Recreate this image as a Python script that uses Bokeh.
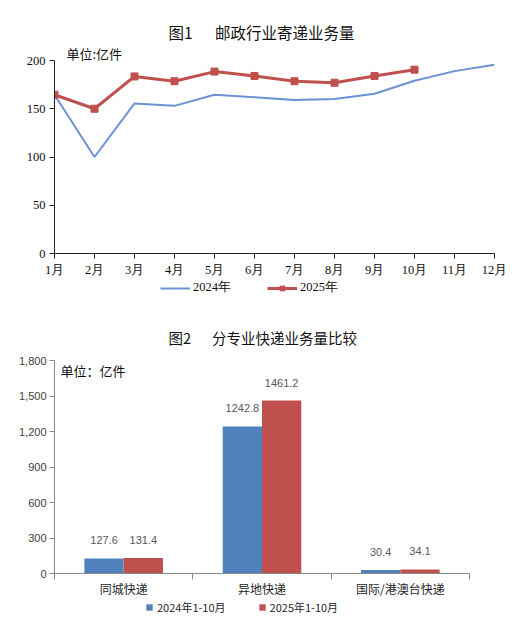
from bokeh.plotting import figure
from bokeh.layouts import column
from bokeh.models import (FixedTicker, Legend, LegendItem, Label, Title, NumeralTickFormatter,
                          ColumnDataSource)
from bokeh.core.properties import value
from bokeh.embed import file_html
from bokeh.resources import INLINE

# ---------------- data ----------------
months = ["1月", "2月", "3月", "4月", "5月", "6月", "7月", "8月", "9月", "10月", "11月", "12月"]
vol_2024 = [164.5, 100.0, 155.5, 153.0, 164.5, 162.0, 159.0, 160.0, 165.5, 179.0, 189.0, 195.5]
vol_2025 = [164.5, 150.0, 183.5, 178.5, 188.5, 184.0, 178.5, 177.0, 184.0, 190.5]
y1_ticks = [0, 50, 100, 150, 200]

categories = ["同城快递", "异地快递", "国际/港澳台快递"]
bar_2024 = [127.6, 1242.8, 30.4]
bar_2025 = [131.4, 1461.2, 34.1]
y2_ticks = [0, 300, 600, 900, 1200, 1500, 1800]

CJK = "Noto Sans CJK SC"
SERIF = "Liberation Serif"
SANS = "Liberation Sans"
BLUE_LINE = "#6b93d3"
RED = "#c0504d"
BLUE = "#4f81bd"
NAN = float("nan")

W = 512
LEFT, RIGHT = 54, 18          # common frame borders of every child of the column
FRAME_W = W - LEFT - RIGHT


def legend_strip(height):
    f = figure(width=W, height=height, x_range=(0, 1), y_range=(0, 1),
               output_backend="svg", toolbar_location=None, min_border=0,
               min_border_left=LEFT, min_border_right=RIGHT)
    f.axis.visible = False
    f.grid.visible = False
    f.outline_line_color = None
    return f


# ---------------- figure 1 ----------------
x_idx = list(range(1, len(months) + 1))
p1 = figure(width=W, height=279, x_range=(1, 12), y_range=(0, 200),
            output_backend="svg", toolbar_location=None,
            min_border_left=LEFT, min_border_right=RIGHT, min_border_top=60, min_border_bottom=26)
p1.outline_line_color = None
p1.grid.visible = False

p1.line(x_idx, vol_2024, line_color=BLUE_LINE, line_width=2)
x25 = x_idx[:len(vol_2025)]
p1.line(x25, vol_2025, line_color=RED, line_width=3)
p1.scatter(x25, vol_2025, marker="square", size=7, fill_color=RED, line_color=RED)

p1.xaxis.ticker = FixedTicker(ticks=x_idx)
p1.xaxis.major_label_overrides = {i: m for i, m in zip(x_idx, months)}
p1.yaxis.ticker = FixedTicker(ticks=y1_ticks)
for ax in (p1.xaxis[0], p1.yaxis[0]):
    ax.axis_line_color = "#222222"
    ax.major_tick_line_color = "#222222"
    ax.major_tick_in = 0
    ax.major_tick_out = 5
    ax.minor_tick_line_color = None
    ax.major_label_text_font = SERIF
    ax.major_label_text_font_size = "12.5px"
    ax.major_label_text_color = "#111111"
p1.xaxis.major_label_standoff = 4
p1.yaxis.major_label_standoff = 4

p1.add_layout(Title(text="单位:亿件", align="left", offset=66 - LEFT, standoff=-4,
                    text_font=CJK, text_font_size="13px", text_font_style="normal",
                    text_color="#111111"), "above")
p1.add_layout(Title(text="图1\u3000\u00a0\u00a0邮政行业寄递业务量", align="left", offset=168 - LEFT,
                    standoff=2, text_font=CJK, text_font_size="15.5px", text_font_style="normal",
                    text_color="#111111"), "above")

# legend strip 1 (legend glyphs only; the renderers hold no visible point)
l1 = legend_strip(17)
g24 = l1.line([NAN], [NAN], line_color=BLUE_LINE, line_width=2)
g25l = l1.line([NAN], [NAN], line_color=RED, line_width=3)
g25m = l1.scatter([NAN], [NAN], marker="square", size=7, fill_color=RED, line_color=RED)
l1.add_layout(Legend(items=[LegendItem(label="2024年", renderers=[g24]),
                            LegendItem(label="2025年", renderers=[g25l, g25m])],
                     orientation="horizontal", location=(160 - LEFT, 0),
                     glyph_width=30, glyph_height=12, label_standoff=3, spacing=36,
                     padding=0, margin=0, border_line_color=None, background_fill_alpha=0,
                     label_text_font=SERIF, label_text_font_size="12.5px",
                     label_text_color="#111111"))

# ---------------- figure 2 ----------------
n = len(categories)
centers = [i + 0.5 for i in range(n)]
bw = 0.284
# the category axis ends at x=469 px of the page, inside the common frame
ax_r = 469.0
unit_px = (ax_r - LEFT) / n
x2_end = n + (LEFT + FRAME_W - ax_r) / unit_px

src = ColumnDataSource(dict(
    x24=[c - bw / 2 for c in centers], x25=[c + bw / 2 for c in centers],
    v24=bar_2024, v25=bar_2025,
    t24=[f"{v:.1f}" for v in bar_2024], t25=[f"{v:.1f}" for v in bar_2025]))

p2 = figure(width=W, height=304, x_range=(0, x2_end), y_range=(0, 1800),
            output_backend="svg", toolbar_location=None,
            min_border_left=LEFT, min_border_right=RIGHT, min_border_top=64, min_border_bottom=27)
p2.outline_line_color = None
p2.grid.visible = False

p2.vbar(x="x24", top="v24", width=bw, source=src, fill_color=BLUE, line_color=None)
p2.vbar(x="x25", top="v25", width=bw, source=src, fill_color=RED, line_color=None)
p2.text(x="x24", y="v24", text="t24", source=src, y_offset=-18, text_align="center",
        text_baseline="middle", text_font=value(SANS), text_font_size="11px",
        text_color="#595959")
p2.text(x="x25", y="v25", text="t25", source=src, y_offset=-18, text_align="center",
        text_baseline="middle", text_font=value(SANS), text_font_size="11px",
        text_color="#595959")

p2.xaxis.ticker = FixedTicker(ticks=centers, minor_ticks=list(range(n + 1)))
p2.xaxis.bounds = (0, n)
p2.xaxis.major_label_overrides = {c: cat for c, cat in zip(centers, categories)}
p2.xaxis.major_tick_out = 0
p2.xaxis.major_tick_in = 0
p2.xaxis.minor_tick_out = 6
p2.xaxis.minor_tick_in = 0
p2.xaxis.minor_tick_line_color = "#888888"
p2.xaxis.major_label_text_font = CJK
p2.xaxis.major_label_text_font_size = "12px"
p2.xaxis.major_label_text_color = "#262626"
p2.xaxis.major_label_standoff = 0
p2.yaxis.ticker = FixedTicker(ticks=y2_ticks)
p2.yaxis.formatter = NumeralTickFormatter(format="0,0")
p2.yaxis.major_tick_in = 0
p2.yaxis.major_tick_out = 5
p2.yaxis.minor_tick_line_color = None
p2.yaxis.major_tick_line_color = "#888888"
p2.yaxis.major_label_text_font = SANS
p2.yaxis.major_label_text_font_size = "11px"
p2.yaxis.major_label_text_color = "#404040"
p2.yaxis.major_label_standoff = 3
for ax in (p2.xaxis[0], p2.yaxis[0]):
    ax.axis_line_color = "#888888"

p2.add_layout(Title(text="图2\u3000\u00a0\u00a0分专业快递业务量比较", align="left", offset=168 - LEFT,
                    standoff=25, text_font=CJK, text_font_size="14.5px", text_font_style="normal",
                    text_color="#111111"), "above")
plot_h2 = 213
p2.add_layout(Label(x=0, y=1800 - 10 * 1800 / plot_h2, x_offset=6,
                    text="单位：亿件", text_font=CJK, text_font_size="13px",
                    text_color="#111111", text_align="left", text_baseline="middle"))

# legend strip 2
l2 = legend_strip(16)
h24 = l2.vbar(x=[NAN], top=[NAN], width=0.1, fill_color=BLUE, line_color=None)
h25 = l2.vbar(x=[NAN], top=[NAN], width=0.1, fill_color=RED, line_color=None)
l2.add_layout(Legend(items=[LegendItem(label="2024年1-10月", renderers=[h24]),
                            LegendItem(label="2025年1-10月", renderers=[h25])],
                     orientation="horizontal", location=(145 - LEFT, 1),
                     glyph_width=8, glyph_height=8, label_standoff=4, spacing=32,
                     padding=0, margin=0, border_line_color=None, background_fill_alpha=0,
                     label_text_font=CJK, label_text_font_size="11px",
                     label_text_color="#262626"))

layout = column(p1, l1, p2, l2, spacing=0)
open("out.html", "w").write(file_html(layout, INLINE))
